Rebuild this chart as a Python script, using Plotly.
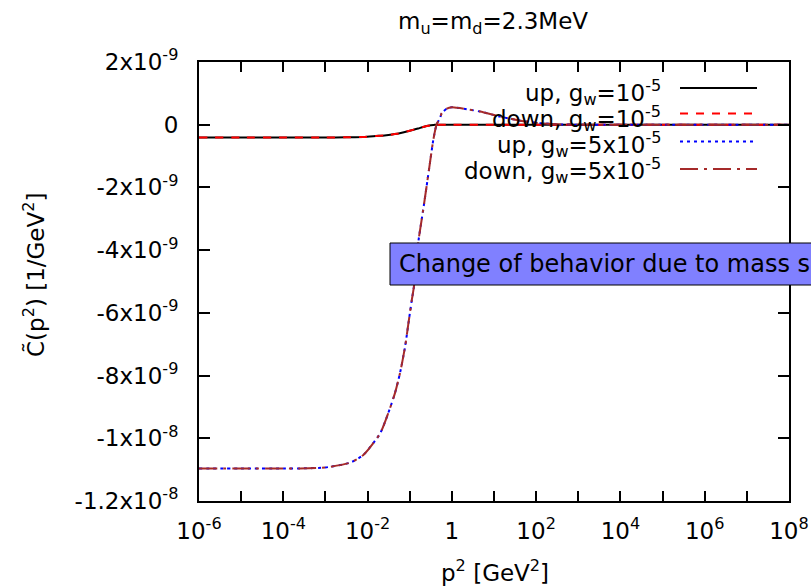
import plotly.graph_objects as go

# ---------------- data ----------------
# log10(p^2 / GeV^2) sample positions and C~(p^2) in units of 1e-9 GeV^-2
log_p2_g1 = [-6, -5, -4, -3, -2.5, -2.1, -1.8, -1.6, -1.3, -1.0, -0.8, -0.68, -0.5, -0.4, 0, 1, 2, 3, 4, 5, 6, 7, 8]
up_g1 = [-0.41, -0.41, -0.41, -0.41, -0.40, -0.39, -0.36, -0.34, -0.29, -0.19, -0.12, -0.07, -0.02, 0.0, 0.0, 0.0, 0.0, 0.0, 0.0, 0.0, 0.0, 0.0, 0.0]
down_g1 = [-0.41, -0.41, -0.41, -0.41, -0.40, -0.39, -0.36, -0.34, -0.29, -0.19, -0.12, -0.07, -0.02, 0.0, 0.0, 0.0, 0.0, 0.0, 0.0, 0.0, 0.0, 0.0, 0.0]

log_p2_g5 = [-6, -5, -4, -3.6, -3.0, -2.42, -2.1, -1.7, -1.51, -1.35, -1.23, -1.11, -1.03, -0.95, -0.90,
             -0.80, -0.68, -0.60, -0.52, -0.44, -0.36, -0.28, -0.24, -0.12, 0.0, 0.19, 0.67, 1.14, 1.62,
             2.09, 2.6, 3.0, 4, 5, 6, 7, 8]
up_g5 = [-10.96, -10.96, -10.96, -10.96, -10.93, -10.78, -10.53, -9.84, -9.20, -8.56, -7.92, -7.08, -6.33, -5.59, -5.16,
         -3.78, -2.71, -1.97, -1.22, -0.48, 0.02, 0.21, 0.37, 0.51, 0.56, 0.53, 0.42, 0.26, 0.13,
         0.05, 0.01, 0.0, 0.0, 0.0, 0.0, 0.0, 0.0]
down_g5 = [-10.96, -10.96, -10.96, -10.96, -10.93, -10.78, -10.53, -9.84, -9.20, -8.56, -7.92, -7.08, -6.33, -5.59, -5.16,
           -3.78, -2.71, -1.97, -1.22, -0.48, 0.02, 0.21, 0.37, 0.51, 0.56, 0.53, 0.42, 0.26, 0.13,
           0.05, 0.01, 0.0, 0.0, 0.0, 0.0, 0.0, 0.0]

series_names = ["up, g<sub>w</sub>=10<sup>-5</sup>", "down, g<sub>w</sub>=10<sup>-5</sup>",
                "up, g<sub>w</sub>=5x10<sup>-5</sup>", "down, g<sub>w</sub>=5x10<sup>-5</sup>"]

x_tickvals = [1e-6, 1e-4, 1e-2, 1, 1e2, 1e4, 1e6, 1e8]
x_ticktext = ["10<sup>-6</sup>", "10<sup>-4</sup>", "10<sup>-2</sup>", "1",
              "10<sup>2</sup>", "10<sup>4</sup>", "10<sup>6</sup>", "10<sup>8</sup>"]
x_minor_tickvals = [1e-5, 1e-3, 1e-1, 1e1, 1e3, 1e5, 1e7]
y_tickvals = [2e-9, 0, -2e-9, -4e-9, -6e-9, -8e-9, -1e-8, -1.2e-8]
y_ticktext = ["2x10<sup>-9</sup>", "0", "-2x10<sup>-9</sup>", "-4x10<sup>-9</sup>", "-6x10<sup>-9</sup>",
              "-8x10<sup>-9</sup>", "-1x10<sup>-8</sup>", "-1.2x10<sup>-8</sup>"]

# ---------------- figure ----------------
W, H = 811, 586
ML, MR, MT, MB = 199, 22, 62, 85
PW, PH = W - ML - MR, H - MT - MB

def px(x):
    return (x - ML) / PW

def py(y):
    return (H - MB - y) / PH

FONT = "DejaVu Sans"
FS = 23

colors = ["#000000", "#ff0000", "#0000ff", "#a52a2a"]
dashes = ["solid", "8px,8px", "3px,4px", "18px,6px,3px,6px"]

fig = go.Figure()
data_sets = [(log_p2_g1, up_g1), (log_p2_g1, down_g1), (log_p2_g5, up_g5), (log_p2_g5, down_g5)]
for (lx, vals), name, c, d in zip(data_sets, series_names, colors, dashes):
    fig.add_trace(go.Scatter(
        x=[10 ** v for v in lx], y=[v * 1e-9 for v in vals],
        mode="lines", name=name, showlegend=False, hoverinfo="skip",
        line=dict(color=c, width=2, dash=d, shape="spline", smoothing=0.6),
    ))

fig.update_layout(
    width=W, height=H,
    margin=dict(l=ML, r=MR, t=MT, b=MB, autoexpand=False),
    paper_bgcolor="white", plot_bgcolor="white",
    font=dict(family=FONT, size=FS, color="black"),
    showlegend=False,
)
fig.update_xaxes(
    type="log", range=[-6, 8], automargin=False,
    tickvals=x_tickvals, ticktext=x_ticktext,
    ticks="inside", ticklen=10, tickwidth=1.5, tickcolor="black",
    minor=dict(tickvals=x_minor_tickvals, ticks="inside", ticklen=10, tickwidth=1.5, tickcolor="black"),
    showline=True, linewidth=2, linecolor="black", mirror="ticks",
    showgrid=False, zeroline=False, ticklabelstandoff=8,
)
fig.update_yaxes(
    range=[-1.2e-8, 2e-9], automargin=False,
    tickvals=y_tickvals, ticktext=y_ticktext,
    ticks="inside", ticklen=11, tickwidth=1.5, tickcolor="black",
    showline=True, linewidth=2, linecolor="black", mirror="ticks",
    showgrid=False, zeroline=False, ticklabelstandoff=14,
)

annotations = []
# title and axis titles
annotations.append(dict(text="m<sub>u</sub>=m<sub>d</sub>=2.3MeV", xref="paper", yref="paper",
                        x=px(493), y=py(23), xanchor="center", yanchor="middle", showarrow=False))
annotations.append(dict(text="p<sup>2</sup> [GeV<sup>2</sup>]", xref="paper", yref="paper",
                        x=px(495), y=py(571), xanchor="center", yanchor="middle", showarrow=False))
annotations.append(dict(text="C\u0303(p<sup>2</sup>) [1/GeV<sup>2</sup>]", xref="paper", yref="paper",
                        x=px(34), y=py(275), xanchor="center", yanchor="middle", textangle=-90, showarrow=False))

# gnuplot-style key: text right-aligned, sample line to the right
key_text_y = [92, 118, 144, 170]
key_line_y = [88, 113.5, 141.5, 169]
shapes = []
for name, ty, ly, c, d in zip(series_names, key_text_y, key_line_y, colors, dashes):
    annotations.append(dict(text=name, xref="paper", yref="paper", x=px(663), y=py(ty),
                            xanchor="right", yanchor="middle", showarrow=False))
    shapes.append(dict(type="line", xref="paper", yref="paper", x0=px(680), x1=px(757), y0=py(ly), y1=py(ly),
                       line=dict(color=c, width=2, dash=d), layer="above"))

# boxed label (runs off the right edge, as in the original)
shapes.append(dict(type="rect", xref="paper", yref="paper", x0=px(390), x1=px(830), y0=py(285), y1=py(243),
                   fillcolor="#8080ff", line=dict(color="black", width=1), layer="above"))
annotations.append(dict(text="Change of behavior due to mass splitting", xref="paper", yref="paper",
                        x=px(397), y=py(264), xanchor="left", yanchor="middle", showarrow=False,
                        font=dict(family=FONT, size=24, color="black")))

fig.update_layout(annotations=annotations, shapes=shapes)
fig.write_html("out.html", config={"displayModeBar": False},
               post_script="document.body.style.margin='0';document.body.style.overflow='hidden';")
